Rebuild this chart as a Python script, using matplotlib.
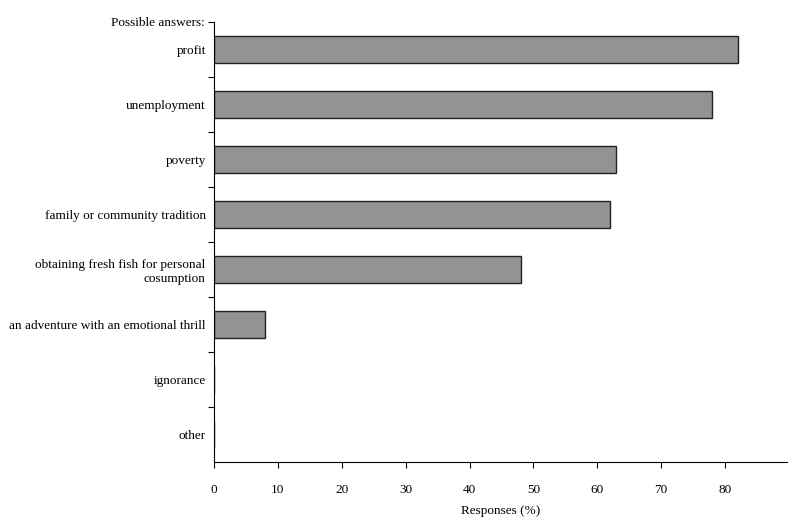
import matplotlib.pyplot as plt
import numpy as np

# survey answers
answers = ['profit', 'unemployment', 'poverty', 'family or community tradition',
           'obtaining fresh fish for personal\ncosumption',
           'an adventure with an emotional thrill', 'ignorance', 'other']
responses = [82, 78, 63, 62, 48, 8, 0, 0]
x_ticks = [0, 10, 20, 30, 40, 50, 60, 70, 80]

plt.rcParams['font.family'] = ['Liberation Serif', 'DejaVu Serif']

fig = plt.figure(figsize=(7.88, 5.19), dpi=100)
ax = fig.add_axes([214 / 788, 1 - 462 / 519, (787 - 214) / 788, (462 - 22) / 519])

pos = np.arange(len(answers))
ax.barh(pos, responses, height=0.48, color='#939393', edgecolor='#222222', linewidth=1.0)

ax.set_ylim(len(answers) - 0.5, -0.5)
ax.set_xlim(0, 89.7)

# boundary ticks (only the top one is labelled), category labels without ticks
bounds = np.arange(len(answers)) - 0.5
ax.set_yticks(bounds)
ax.set_yticklabels(['Possible answers:'] + [''] * (len(bounds) - 1), fontsize=9.5)
ax.set_yticks(pos, minor=True)
ax.set_yticklabels(answers, minor=True, fontsize=9.5)
ax.tick_params(axis='y', which='major', length=4, width=0.8, pad=3)
ax.tick_params(axis='y', which='minor', length=0, pad=6)

ax.set_xticks(x_ticks)
ax.tick_params(axis='x', length=4, width=0.8, labelsize=9.5, pad=12)
ax.set_xlabel('Responses (%)', fontsize=9.5, labelpad=6)

for s in ['top', 'right']:
    ax.spines[s].set_visible(False)
for s in ['left', 'bottom']:
    ax.spines[s].set_linewidth(0.8)

plt.savefig('out.png', dpi=100)
